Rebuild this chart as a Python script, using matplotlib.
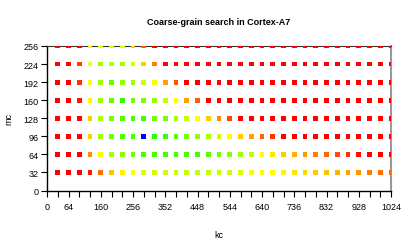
import numpy as np
import matplotlib
matplotlib.use("Agg")
import matplotlib.pyplot as plt
from matplotlib.colors import LinearSegmentedColormap

plt.rcParams["font.family"] = ["Liberation Sans", "DejaVu Sans"]

# kc (x) と mc (y) のグリッド
KC = list(range(32, 1025, 32))
MC = [32, 64, 96, 128, 160, 192, 224, 256]

# 相対コスト (0 = 良い/緑, 1 = 悪い/赤) — 行は MC の順
R = [1.0] * 32
cost = {
    32:  [1, 1, 1, 0.95, 0.78, 0.62, 0.52, 0.5, 0.42, 0.4, 0.4, 0.38, 0.38, 0.38, 0.36, 0.38,
          0.4, 0.42, 0.48, 0.5, 0.5, 0.52, 0.55, 0.58, 0.6, 0.62, 0.65, 0.68, 0.7, 0.75, 0.78, 0.8],
    64:  [1, 1, 1, 0.72, 0.5, 0.32, 0.25, 0.2, 0.12, 0.1, 0.1, 0.1, 0.1, 0.12, 0.15, 0.2,
          0.25, 0.3, 0.36, 0.5, 0.55, 0.6, 0.65, 0.7, 0.75, 0.8, 0.85, 0.9, 0.97, 1, 1, 1],
    96:  [1, 1, 1, 0.6, 0.32, 0.2, 0.12, 0.12, 0.0, 0.05, 0.08, 0.15, 0.22, 0.28, 0.32, 0.4,
          0.5, 0.6, 0.68, 0.8, 0.9] + R[:11],
    128: [1, 1, 1, 0.6, 0.32, 0.22, 0.14, 0.12, 0.1, 0.2, 0.22, 0.3, 0.38, 0.5, 0.6, 0.73,
          0.86] + R[:15],
    160: [1, 1, 0.95, 0.5, 0.3, 0.18, 0.08, 0.2, 0.22, 0.28, 0.38, 0.5, 0.68, 0.82] + R[:18],
    192: [1, 1, 0.9, 0.5, 0.3, 0.18, 0.27, 0.3, 0.4, 0.5, 0.68, 0.83] + R[:20],
    224: [1, 1, 0.88, 0.5, 0.3, 0.35, 0.3, 0.4, 0.6, 0.75] + R[:22],
    256: [1, 1, 1, 0.52, 0.45, 0.4, 0.42, 0.6, 0.82] + R[:23],
}

XTICK_LABELS = [0, 64, 160, 256, 352, 448, 544, 640, 736, 832, 928, 1024]

cmap = LinearSegmentedColormap.from_list(
    "gyr", [(0.0, "#10ff00"), (0.5, "#ffff00"), (1.0, "#ff0000")])

fig = plt.figure(figsize=(4.15, 2.51), dpi=100)
ax = fig.add_axes([47 / 415, 1 - 191.5 / 251, 344 / 415, 144.5 / 251])

xs, ys, vs = [], [], []
for mc in MC:
    for kc, v in zip(KC, cost[mc]):
        xs.append(kc); ys.append(mc); vs.append(v)
xs, ys, vs = np.array(xs), np.array(ys), np.array(vs)
colors = cmap(vs)
best = np.argmin(vs)
colors[best] = (0.0, 0.0, 1.0, 1.0)   # 最良点は青

ax.scatter(xs, ys, c=colors, marker="s", s=12, linewidths=0, zorder=3)

ax.set_xlim(0, 1024)
ax.set_ylim(0, 256)
ax.set_xticks(range(0, 1025, 32))
ax.set_xticklabels([str(t) if t in XTICK_LABELS else "" for t in range(0, 1025, 32)])
ax.set_yticks(range(0, 257, 32))
ax.tick_params(labelsize=6.5, length=4, width=0.8, pad=2, direction="out")
ax.tick_params(axis="x", pad=4)
for s in ("left", "bottom"):
    ax.spines[s].set_linewidth(1.0)
ax.spines["top"].set_linewidth(0.8)
ax.spines["top"].set_color("#333333")
ax.spines["right"].set_color("#999999")
ax.spines["right"].set_linewidth(1.5)

ax.set_title("Coarse-grain search in Cortex-A7", fontsize=6.5, fontweight="bold", pad=16)
ax.set_xlabel("kc", fontsize=6.5, labelpad=14)
ax.set_ylabel("mc", fontsize=6.5, labelpad=7)

fig.savefig("out.png", dpi=100)
